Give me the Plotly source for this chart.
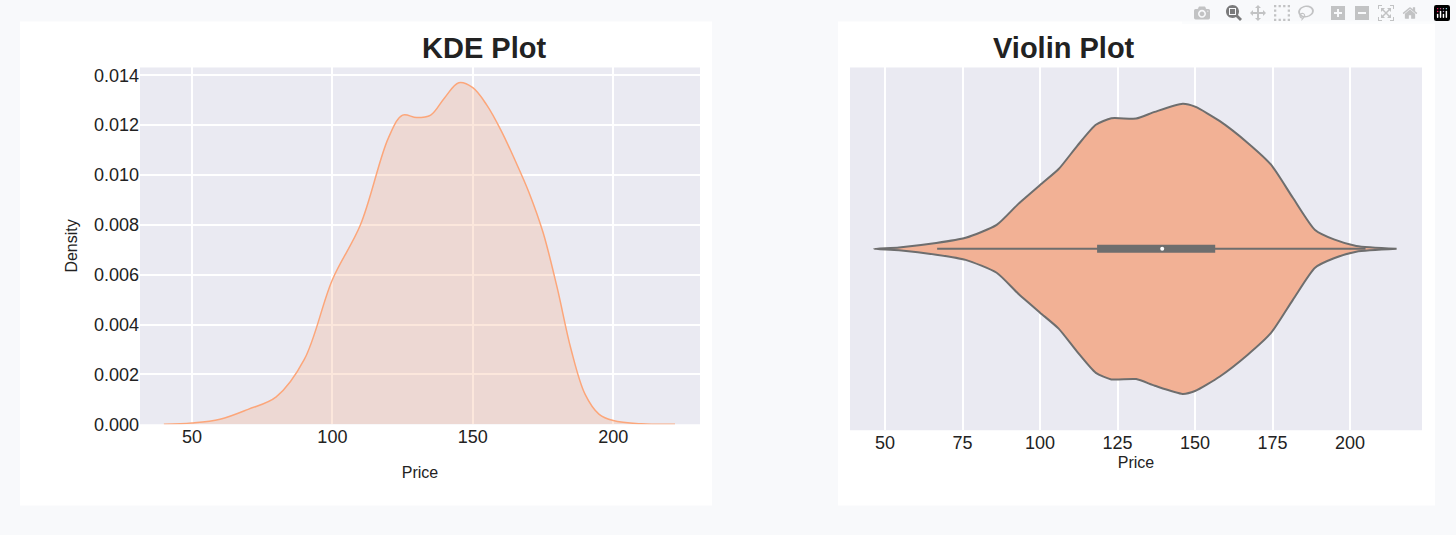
import plotly.graph_objects as go

# KDE data
kde_x = [40, 50, 60, 70, 80, 90, 100, 110, 120, 125, 130, 135, 140, 145, 150, 155, 160, 165, 170, 175, 180, 185, 190, 195, 200, 210, 222]
kde_y = [0, 0.00005, 0.0002, 0.0006, 0.0011, 0.0026, 0.0058, 0.0080, 0.0115, 0.0124, 0.0123, 0.0124, 0.0131, 0.0137, 0.0135, 0.0128, 0.0118, 0.0106, 0.0093, 0.0077, 0.0055, 0.0030, 0.0012, 0.0004, 0.00015, 0.00002, 0]

# Violin data (half-width normalised, peak = 1)
vio_x = [46.4, 54.5, 66.5, 76, 86, 93, 100, 106, 112, 118, 123, 131, 137, 146, 150, 158, 167, 174.5, 181.6, 188.7, 194.8, 202, 215]
vio_w = [0, 0.01, 0.04, 0.076, 0.165, 0.31, 0.44, 0.55, 0.71, 0.855, 0.90, 0.898, 0.944, 1.0, 0.98, 0.88, 0.73, 0.58, 0.35, 0.13, 0.065, 0.02, 0]
whisker = [66.8, 205]
box_q = [118.4, 156.5]
median = 139.4

kde_ticks_x = [50, 100, 150, 200]
kde_ticks_y = [0, 0.002, 0.004, 0.006, 0.008, 0.010, 0.012, 0.014]
vio_ticks_x = [50, 75, 100, 125, 150, 175, 200]

W, H = 1456, 535
FONT = "Liberation Sans, Arial, sans-serif"
PLOTBG = "#eaeaf2"
fig = go.Figure()

fig.add_trace(go.Scatter(x=kde_x, y=kde_y, mode="lines", line=dict(color="#fca67a", width=1.5, shape="spline"),
                         fill="tozeroy", fillcolor="rgba(245,175,140,0.3)", xaxis="x", yaxis="y", showlegend=False))

poly_x = vio_x + vio_x[::-1]
poly_y = vio_w + [-w for w in vio_w[::-1]]
fig.add_trace(go.Scatter(x=poly_x, y=poly_y, mode="lines", line=dict(color="#6e6e6e", width=2, shape="spline", smoothing=0.6),
                         fill="toself", fillcolor="#f2b195", xaxis="x2", yaxis="y2", showlegend=False))
fig.add_trace(go.Scatter(x=whisker, y=[0, 0], mode="lines", line=dict(color="#6e6e6e", width=2),
                         xaxis="x2", yaxis="y2", showlegend=False))
fig.add_trace(go.Scatter(x=box_q, y=[0, 0], mode="lines", line=dict(color="#6e6e6e", width=8),
                         xaxis="x2", yaxis="y2", showlegend=False))
fig.add_trace(go.Scatter(x=[median], y=[0], mode="markers", marker=dict(color="white", size=4),
                         xaxis="x2", yaxis="y2", showlegend=False))

ax = dict(showline=False, zeroline=False, gridcolor="white", gridwidth=1.5, ticks="",
          tickfont=dict(size=18, color="#222", family=FONT))
fig.update_layout(
    width=W, height=H, margin=dict(l=0, r=0, t=0, b=0),
    paper_bgcolor="#f8f9fb", plot_bgcolor="rgba(0,0,0,0)",
    font=dict(family=FONT, color="#222"),
    xaxis=dict(ax, domain=[140/W, 700/W], range=[31.5, 230.9], tickvals=kde_ticks_x,
               title=dict(text="Price", font=dict(size=16), standoff=20)),
    yaxis=dict(ax, domain=[1-432/H, 1-67/H], range=[0, 0.01431], tickvals=kde_ticks_y, tickformat=".3f",
               title=dict(text="Density", font=dict(size=16), standoff=12)),
    xaxis2=dict(ax, domain=[850/W, 1422/W], range=[38.7, 223.2], tickvals=vio_ticks_x, anchor="y2",
                title=dict(text="Price", font=dict(size=16), standoff=4)),
    yaxis2=dict(domain=[1-438/H, 1-67/H], range=[-1.25, 1.25], anchor="x2", showgrid=False,
                showticklabels=False, zeroline=False),
    shapes=[
        dict(type="rect", xref="paper", yref="paper", x0=20/W, x1=712/W, y0=1-515/H, y1=1-20/H,
             fillcolor="white", line=dict(width=0), layer="below"),
        dict(type="rect", xref="paper", yref="paper", x0=838/W, x1=1435/W, y0=1-515/H, y1=1-20/H,
             fillcolor="white", line=dict(width=0), layer="below"),
        dict(type="rect", xref="x domain", yref="y domain", x0=0, x1=1, y0=0, y1=1,
             fillcolor=PLOTBG, line=dict(width=0), layer="below"),
        dict(type="rect", xref="x2 domain", yref="y2 domain", x0=0, x1=1, y0=0, y1=1,
             fillcolor=PLOTBG, line=dict(width=0), layer="below"),
    ],
    annotations=[
        dict(text="<b>KDE Plot</b>", xref="paper", yref="paper", x=420/W, y=1-47/H, showarrow=False,
             font=dict(size=29, color="#222", family=FONT), yanchor="middle"),
        dict(text="<b>Violin Plot</b>", xref="paper", yref="paper", x=1137/W, y=1-47/H, showarrow=False,
             font=dict(size=29, color="#222", family=FONT), yanchor="middle"),
    ],
)
fig.write_html("out.html", post_script="document.body.style.margin='0';")
